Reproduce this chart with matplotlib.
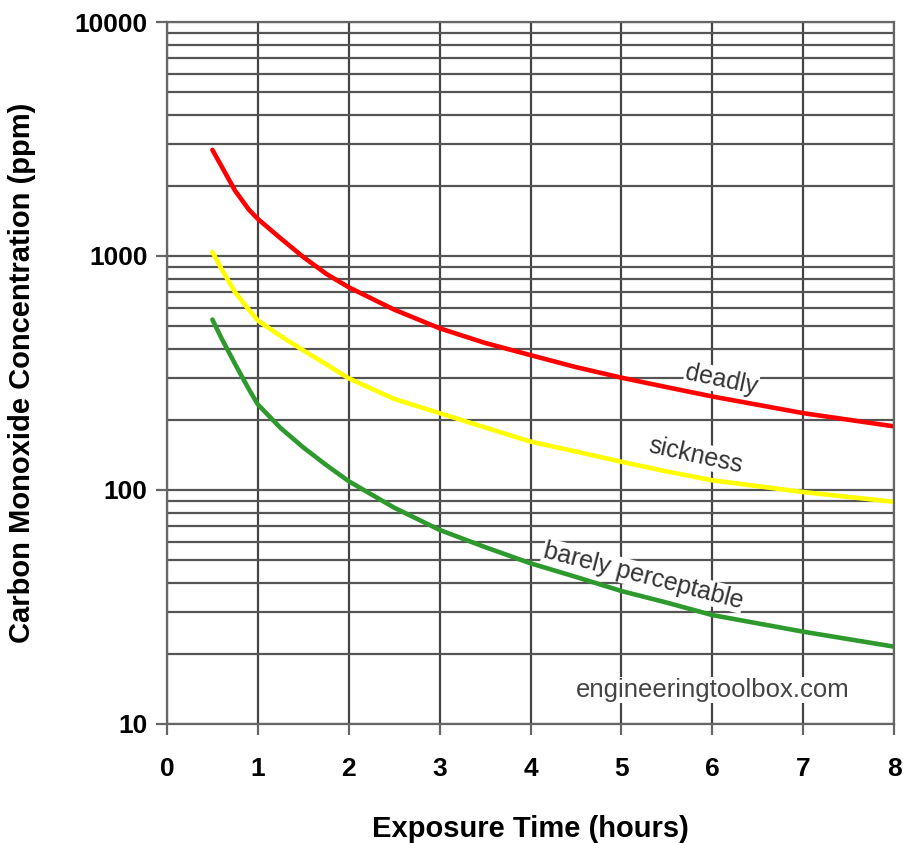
import numpy as np
import matplotlib
matplotlib.use('Agg')
from matplotlib import pyplot as plt
from matplotlib.ticker import LogLocator, NullFormatter

plt.rcParams['font.family'] = ['Liberation Sans', 'DejaVu Sans']

# exposure time (hours)
t = [0.5, 0.6, 0.75, 0.9, 1, 1.25, 1.5, 1.75, 2, 2.5, 3, 3.5, 4, 4.5, 5, 5.5, 6, 7, 8]
# carbon monoxide concentration (ppm)
deadly = [2840, 2420, 1900, 1580, 1440, 1190, 990, 840, 735, 590, 491, 425, 377,
          335, 302, 275, 251, 213, 187]
sickness = [1040, 880, 700, 590, 530, 455, 395, 345, 300, 245, 213, 185, 161,
            146, 132, 120, 110, 98, 89]
barely = [535, 445, 345, 270, 232, 184, 152, 128, 109, 84, 67.5, 57, 48.6,
          42.5, 37, 33, 29.2, 24.8, 21.4]

x_ticks = [0, 1, 2, 3, 4, 5, 6, 7, 8]
y_ticks = [10, 100, 1000, 10000]

fig = plt.figure(figsize=(9.04, 8.43), dpi=100)
ax = fig.add_axes([0.1847, 0.1412, 0.8043, 0.8327])

ax.set_yscale('log')
ax.set_xlim(0, 8)
ax.set_ylim(10, 10000)

ax.plot(t, deadly, color='#ff0000', lw=3.3, solid_capstyle='round', solid_joinstyle='round')
ax.plot(t, sickness, color='#ffff00', lw=3.3, solid_capstyle='round', solid_joinstyle='round')
ax.plot(t, barely, color='#2e9a2e', lw=3.3, solid_capstyle='round', solid_joinstyle='round')

ax.set_xticks(x_ticks)
ax.set_yticks(y_ticks)
ax.set_yticklabels([str(v) for v in y_ticks])
ax.yaxis.set_minor_locator(LogLocator(base=10, subs=np.arange(2, 10)))
ax.yaxis.set_minor_formatter(NullFormatter())

ax.grid(True, which='major', axis='x', color='#444444', lw=1.6)
ax.grid(True, which='both', axis='y', color='#555555', lw=1.6)
ax.set_axisbelow(True)

for s in ax.spines.values():
    s.set_color('#666666')
    s.set_linewidth(1.6)

ax.tick_params(axis='both', which='major', direction='out', length=8,
               width=1.6, color='#666666', labelsize=19)
ax.tick_params(axis='x', which='major', pad=16)
ax.tick_params(axis='y', which='major', pad=6)
ax.tick_params(axis='y', which='minor', length=0)
for lab in ax.get_xticklabels() + ax.get_yticklabels():
    lab.set_fontweight('bold')

ax.set_xlabel('Exposure Time (hours)', fontsize=21, fontweight='bold', labelpad=24)
ax.set_ylabel('Carbon Monoxide Concentration (ppm)', fontsize=21, fontweight='bold', labelpad=28)

box = dict(facecolor='white', edgecolor='none', pad=0.5)
ax.text(6.1, 295, 'deadly', fontsize=18, color='#333333', rotation=-12,
        ha='center', va='center', bbox=box)
ax.text(5.82, 141, 'sickness', fontsize=18, color='#333333', rotation=-12.5,
        ha='center', va='center', bbox=box)
ax.text(5.24, 43, 'barely perceptable', fontsize=18, color='#333333', rotation=-14.5,
        ha='center', va='center', bbox=box)
ax.text(6.0, 14.0, 'engineeringtoolbox.com', fontsize=18.5, color='#444444',
        ha='center', va='center', bbox=box)

fig.savefig('out.png', dpi=100)
